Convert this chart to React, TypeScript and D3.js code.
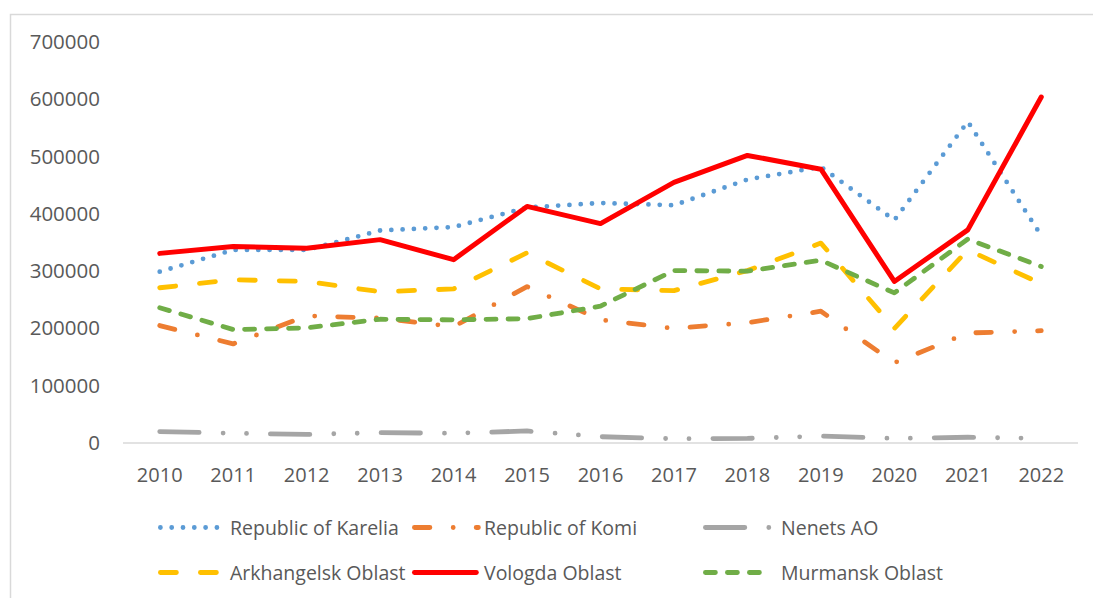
import React from "react";
import { scalePoint, scaleLinear, line } from "d3";

const years = ["2010", "2011", "2012", "2013", "2014", "2015", "2016", "2017", "2018", "2019", "2020", "2021", "2022"];
const yTicks = [0, 100000, 200000, 300000, 400000, 500000, 600000, 700000];

const karelia = [299000, 337000, 337000, 371000, 377000, 411000, 419000, 415000, 460000, 482000, 389000, 561000, 362000];
const komi = [205000, 173000, 222000, 218000, 203000, 273000, 215000, 200000, 210000, 230000, 140000, 192000, 196000];
const nenets = [20000, 17000, 15000, 18000, 17000, 21000, 11000, 7500, 8000, 12000, 8000, 10000, 8000];
const arkhangelsk = [271000, 285000, 282000, 264000, 269000, 332000, 269000, 266000, 301000, 349000, 200000, 337000, 278000];
const vologda = [331000, 343000, 340000, 355000, 320000, 413000, 383000, 455000, 502000, 478000, 282000, 372000, 604000];
const murmansk = [236000, 198000, 201000, 216000, 215000, 217000, 239000, 301000, 300000, 319000, 262000, 356000, 308000];

const seriesNames = ["Republic of Karelia", "Republic of Komi", "Nenets AO", "Arkhangelsk Oblast", "Vologda Oblast", "Murmansk Oblast"];
const seriesValues = [karelia, komi, nenets, arkhangelsk, vologda, murmansk];
const seriesColors = ["#5b9bd5", "#ed7d31", "#a5a5a5", "#ffc000", "#ff0000", "#70ad47"];
const seriesDash = ["0 11.3", "15.5 23.3 0 23", "39.4 24 0 23.4 0 23.9", "16 24", "", "10 12"];
const legendLen = [62, 64, 64, 62, 62, 62];

const FONT = "'Open Sans', sans-serif";
const TEXT = "#595959";

export default function App() {
  const width = 1093;
  const height = 598;
  const x = scalePoint<string>().domain(years).range([123, 1078]).padding(0.5);
  const y = scaleLinear().domain([0, 700000]).range([443, 42]);

  const lineGen = line<number>()
    .x((_, i) => x(years[i]) as number)
    .y((d) => y(d));

  // legend layout: 3 columns, 2 rows
  const legCols = [158, 412, 703];
  const legText = [230, 484, 781];
  const legRows = [527.5, 572.5];

  return (
    <svg width={width} height={height} style={{ position: "absolute", left: 0, top: 0 }}>
      <rect x={0} y={0} width={width} height={height} fill="#fff" />
      <rect x={10.5} y={14.5} width={1200} height={700} fill="none" stroke="#d9d9d9" strokeWidth={1.5} />

      {yTicks.map((t) => (
        <text key={t} x={100} y={y(t) + 7} textAnchor="end" fontFamily={FONT} fontSize={20.5} fill={TEXT}>
          {t}
        </text>
      ))}

      <line x1={123} x2={1078} y1={y(0)} y2={y(0)} stroke="#d9d9d9" strokeWidth={1.5} />

      {years.map((yr) => (
        <text key={yr} x={x(yr)} y={482} textAnchor="middle" fontFamily={FONT} fontSize={20} fill={TEXT}>
          {yr}
        </text>
      ))}

      {seriesValues.map((vals, i) => (
        <path
          key={seriesNames[i]}
          d={lineGen(vals) || ""}
          fill="none"
          stroke={seriesColors[i]}
          strokeWidth={i === 4 ? 5 : 4.8}
          strokeDasharray={seriesDash[i] || undefined}
          strokeLinecap="round"
          strokeLinejoin="round"
        />
      ))}

      {seriesNames.map((name, i) => {
        const col = i % 3;
        const row = Math.floor(i / 3);
        const ly = legRows[row];
        const x0 = legCols[col] + 2.4;
        return (
          <g key={name}>
            <line
              x1={x0}
              x2={x0 + legendLen[i]}
              y1={ly}
              y2={ly}
              stroke={seriesColors[i]}
              strokeWidth={4.8}
              strokeDasharray={seriesDash[i] || undefined}
              strokeLinecap="round"
            />
            <text x={legText[col]} y={ly + 7.5} fontFamily={FONT} fontSize={19.5} fill={TEXT}>
              {name}
            </text>
          </g>
        );
      })}
    </svg>
  );
}
